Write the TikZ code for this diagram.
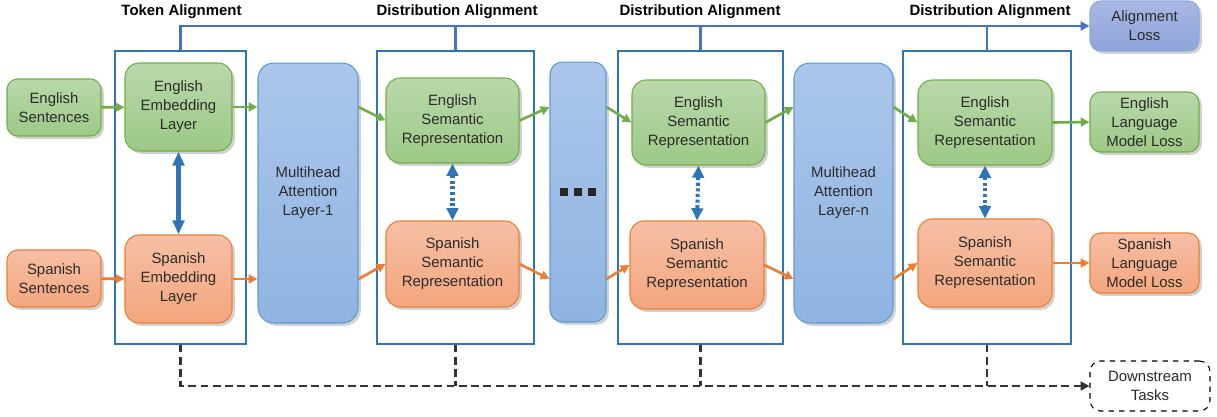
\documentclass[tikz,border=0pt]{standalone}
\usepackage{fontspec}
\setmainfont{Liberation Sans}
\usetikzlibrary{arrows.meta,shadows}
\definecolor{gfill1}{HTML}{B9D8AB}
\definecolor{gfill2}{HTML}{9DC986}
\definecolor{gline}{HTML}{70AD47}
\definecolor{ofill1}{HTML}{F6BFA6}
\definecolor{ofill2}{HTML}{F4A67E}
\definecolor{oline}{HTML}{ED7D31}
\definecolor{bfill1}{HTML}{ABC6EA}
\definecolor{bfill2}{HTML}{90B4E2}
\definecolor{bline}{HTML}{5B9BD5}
\definecolor{afill1}{HTML}{A9B7E3}
\definecolor{afill2}{HTML}{8EA4DA}
\definecolor{aline}{HTML}{8FAADC}
\definecolor{frmcol}{HTML}{2E75B6}
\definecolor{topl}{HTML}{4472C4}
\definecolor{txt}{HTML}{2B2B2B}
\tikzset{
  shad/.style={drop shadow={shadow xshift=1.6pt,shadow yshift=-1.6pt,opacity=0.3,fill=black!60}},
  base/.style={shad,rounded corners=6pt,align=center,text=txt,font=\fontsize{8.5}{10.8}\selectfont,inner sep=1pt,line width=0.6pt},
  gbox/.style={base,draw=gline,top color=gfill1,bottom color=gfill2},
  obox/.style={base,draw=oline,top color=ofill1,bottom color=ofill2},
  bbox/.style={base,draw=bline,top color=bfill1,bottom color=bfill2,rounded corners=9pt},
  abox/.style={base,draw=aline,top color=afill1,bottom color=afill2},
  dbox/.style={rounded corners=6pt,align=center,text=txt,font=\fontsize{8.5}{10.8}\selectfont,draw=black,dashed,line width=0.6pt,fill=white},
  frm/.style={draw=frmcol,line width=0.7pt},
  head/.style={font=\bfseries\fontsize{8.5}{10}\selectfont,text=black},
  garr/.style={draw=gline,line width=1.5pt,-{Triangle[length=5pt,width=5pt]}},
  oarr/.style={draw=oline,line width=1.5pt,-{Triangle[length=5pt,width=5pt]}},
  tarr/.style={draw=topl,line width=1.3pt},
  darr/.style={draw=black!80,line width=1.3pt,dash pattern=on 4.5pt off 2.5pt},
  dbl/.style={draw=frmcol,line width=2.3pt,{Triangle[length=8pt,width=6.5pt]}-{Triangle[length=8pt,width=6.5pt]}},
  dbldot/.style={draw=frmcol,line width=2.3pt,dash pattern=on 1.8pt off 1.4pt,{Triangle[length=7pt,width=6.5pt]}-{Triangle[length=7pt,width=6.5pt]}},
}
\begin{document}
\begin{tikzpicture}[x=0.02cm,y=-0.02cm]
\useasboundingbox (0,0) rectangle (1217,416);
% frames
\node[frm,minimum width=2.62cm,minimum height=5.86cm] (tok) at (180.5,197.5) {};
\node[frm,minimum width=3.14cm,minimum height=5.86cm] (d1) at (455.5,197.5) {};
\node[frm,minimum width=3.30cm,minimum height=5.86cm] (d2) at (700.5,197.5) {};
\node[frm,minimum width=3.36cm,minimum height=5.86cm] (d3) at (987,197.5) {};
% headings
\node[head] (h0) at (181.5,12) {Token Alignment};
\node[head] (h1) at (457,12) {Distribution Alignment};
\node[head] (h2) at (700,12) {Distribution Alignment};
\node[head] (h3) at (990,12) {Distribution Alignment};
% nodes
\node[gbox,minimum width=1.88cm,minimum height=1.14cm] (ensent) at (54,107.5) {English\\Sentences};
\node[obox,minimum width=1.88cm,minimum height=1.14cm] (spsent) at (54,278.5) {Spanish\\Sentences};
\node[gbox,rounded corners=8pt,minimum width=2.14cm,minimum height=1.76cm] (enemb) at (178.5,107) {English\\Embedding\\Layer};
\node[obox,rounded corners=8pt,minimum width=2.14cm,minimum height=1.76cm] (spemb) at (178.5,279) {Spanish\\Embedding\\Layer};
\node[bbox,minimum width=2.0cm,minimum height=5.2cm] (mh1) at (308,193) {Multihead\\Attention\\Layer-1};
\node[gbox,rounded corners=8pt,minimum width=2.66cm,minimum height=1.70cm] (ensem1) at (452.5,120.5) {English\\Semantic\\Representation};
\node[obox,rounded corners=8pt,minimum width=2.66cm,minimum height=1.72cm] (spsem1) at (452.5,264) {Spanish\\Semantic\\Representation};
\node[bbox,minimum width=1.12cm,minimum height=5.2cm,rounded corners=7pt] (dots) at (578,192) {};
\node[fill=black!85,minimum size=4pt,inner sep=0pt] (dt1) at (564,192) {};
\node[fill=black!85,minimum size=4pt,inner sep=0pt] (dt2) at (578,192) {};
\node[fill=black!85,minimum size=4pt,inner sep=0pt] (dt3) at (592,192) {};
\node[gbox,rounded corners=8pt,minimum width=2.66cm,minimum height=1.70cm] (ensem2) at (698.5,122.5) {English\\Semantic\\Representation};
\node[obox,rounded corners=8pt,minimum width=2.68cm,minimum height=1.76cm] (spsem2) at (697,265) {Spanish\\Semantic\\Representation};
\node[bbox,minimum width=1.98cm,minimum height=5.2cm] (mhn) at (843.5,193) {Multihead\\Attention\\Layer-n};
\node[gbox,rounded corners=8pt,minimum width=2.68cm,minimum height=1.70cm] (ensem3) at (985,122.5) {English\\Semantic\\Representation};
\node[obox,rounded corners=8pt,minimum width=2.68cm,minimum height=1.76cm] (spsem3) at (985,263) {Spanish\\Semantic\\Representation};
\node[abox,minimum width=2.18cm,minimum height=1.0cm] (alloss) at (1144.5,26) {Alignment\\Loss};
\node[gbox,minimum width=2.18cm,minimum height=1.2cm] (enloss) at (1144.5,122) {English\\Language\\Model Loss};
\node[obox,minimum width=2.18cm,minimum height=1.2cm] (sploss) at (1144.5,263) {Spanish\\Language\\Model Loss};
\node[dbox,minimum width=2.4cm,minimum height=1.0cm] (down) at (1150,386) {Downstream\\Tasks};
% top alignment line
\draw[tarr,-{Triangle[length=5pt,width=5pt]}] (tok.north) |- (alloss.west);
\foreach \f in {d1,d2,d3} \draw[tarr] (\f.north) -- (\f.north |- alloss.west);
% bottom dashed line
\draw[darr,-{Triangle[length=5pt,width=5pt]}] (tok.south) |- (down.west);
\foreach \f in {d1,d2,d3} \draw[darr] (\f.south) -- (\f.south |- down.west);
% green arrows
\draw[garr] (ensent) -- (enemb);
\draw[garr] (enemb.east) -- (enemb.east -| mh1.west);
\draw[garr] (mh1.east |- enemb) -- (ensem1.west);
\draw[garr] (ensem1.east) -- (dots.west |- enemb);
\draw[garr] (dots.east |- enemb) -- (ensem2.west);
\draw[garr] (ensem2.east) -- (mhn.west |- enemb);
\draw[garr] (mhn.east |- enemb) -- (ensem3.west);
\draw[garr] (ensem3.east) -- (enloss.west);
% orange arrows
\draw[oarr] (spsent) -- (spemb);
\draw[oarr] (spemb.east) -- (spemb.east -| mh1.west);
\draw[oarr] (mh1.east |- spemb) -- (spsem1.west);
\draw[oarr] (spsem1.east) -- (dots.west |- spemb);
\draw[oarr] (dots.east |- spemb) -- (spsem2.west);
\draw[oarr] (spsem2.east) -- (mhn.west |- spemb);
\draw[oarr] (mhn.east |- spemb) -- (spsem3.west);
\draw[oarr] (spsem3.east) -- (sploss.west);
% vertical alignment arrows
\draw[dbl] (enemb.south) -- (spemb.north);
\draw[dbldot] (ensem1.south) -- (spsem1.north);
\draw[dbldot] (ensem2.south) -- (spsem2.north);
\draw[dbldot] (ensem3.south) -- (spsem3.north);
\end{tikzpicture}
\end{document}
